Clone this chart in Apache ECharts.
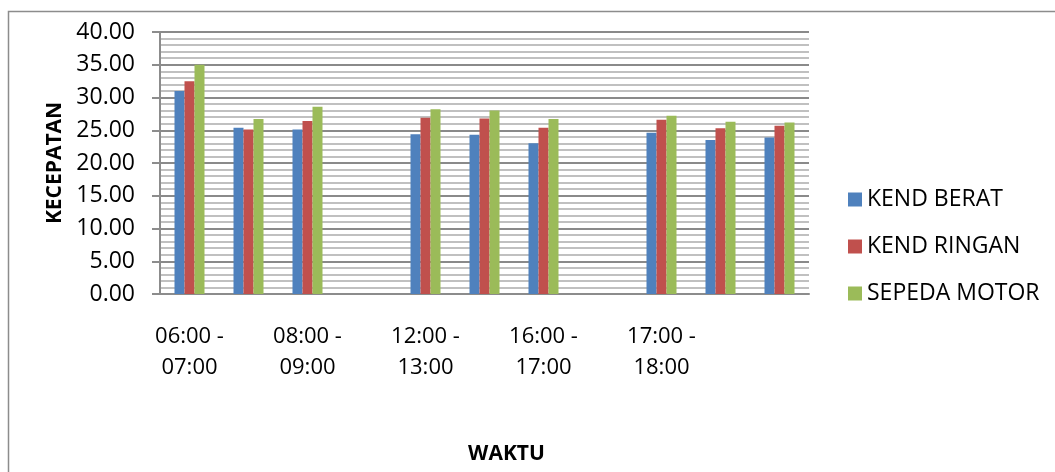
<!DOCTYPE html>
<html>
<head>
<meta charset="utf-8">
<script src="https://cdn.jsdelivr.net/npm/echarts@6/dist/echarts.min.js"></script>
<style>
  html, body { margin: 0; padding: 0; background: #fff; }
  #chart { width: 1055px; height: 472px; }
</style>
</head>
<body>
<div id="chart"></div>
<script>
// Time slots along the x axis (only every other label is shown)
const slots = [
  '06:00 - 07:00', '07:00 - 08:00', '08:00 - 09:00', '09:00 - 10:00',
  '12:00 - 13:00', '13:00 - 14:00', '16:00 - 17:00', '16:30 - 17:30',
  '17:00 - 18:00', '18:00 - 19:00', '19:00 - 20:00'
];
// Slots whose label is printed under the axis
const labelledSlots = [0, 2, 4, 6, 8];

// Average speed per vehicle class (null = no measurement in that slot)
const kendBerat  = [31.0, 25.4, 25.1, null, 24.4, 24.3, 23.0, null, 24.6, 23.5, 23.9];
const kendRingan = [32.5, 25.1, 26.4, null, 26.9, 26.8, 25.4, null, 26.6, 25.3, 25.7];
const sepedaMotor = [35.0, 26.7, 28.6, null, 28.2, 28.0, 26.7, null, 27.2, 26.3, 26.2];

const seriesNames = ['KEND BERAT', 'KEND RINGAN', 'SEPEDA MOTOR'];
const seriesColors = ['#4F81BD', '#C0504D', '#9BBB59'];

const font = '"Open Sans", "Liberation Sans", sans-serif';

const chart = echarts.init(document.getElementById('chart'), null, { renderer: 'canvas' });

chart.setOption({
  backgroundColor: '#ffffff',
  animation: false,
  textStyle: { fontFamily: font },
  graphic: [{
    type: 'rect',
    shape: { x: 8.5, y: 11.5, width: 1200, height: 600 },
    style: { fill: 'none', stroke: '#8c8c8c', lineWidth: 1.5 },
    silent: true,
    z: -10
  }],
  grid: { left: 160, right: 246, top: 32, bottom: 178, outerBoundsMode: 'none', containLabel: false },
  legend: {
    orient: 'vertical',
    left: 843,
    top: 183,
    itemWidth: 14,
    itemHeight: 14,
    itemGap: 24,
    icon: 'rect',
    data: seriesNames,
    textStyle: { fontFamily: font, fontSize: 23, color: '#000' }
  },
  xAxis: {
    type: 'category',
    data: slots,
    name: 'WAKTU',
    nameLocation: 'middle',
    nameGap: 150,
    nameTextStyle: {
      fontFamily: font, fontSize: 21, fontWeight: 'bold', color: '#000',
      padding: [0, 0, 0, 44]
    },
    axisLine: { show: true, lineStyle: { color: '#8c8c8c', width: 2 } },
    axisTick: { show: false },
    axisLabel: {
      interval: (idx) => labelledSlots.includes(idx),
      margin: 27,
      fontFamily: font,
      fontSize: 22,
      lineHeight: 31,
      color: '#000',
      formatter: v => v.replace(' - ', ' -\n')
    }
  },
  yAxis: {
    type: 'value',
    min: 0,
    max: 40,
    interval: 5,
    name: 'KECEPATAN',
    nameLocation: 'middle',
    nameGap: 94,
    nameTextStyle: { fontFamily: font, fontSize: 21, fontWeight: 'bold', color: '#000' },
    axisLine: { show: true, lineStyle: { color: '#8c8c8c', width: 2 } },
    axisTick: { show: true, length: 8, lineStyle: { color: '#8c8c8c', width: 2 } },
    axisLabel: {
      margin: 25,
      fontFamily: font,
      fontSize: 23,
      color: '#000',
      formatter: v => v.toFixed(2)
    },
    splitLine: { show: true, lineStyle: { color: '#8a8a8a', width: 2 } },
    minorTick: { show: false, splitNumber: 5 },
    minorSplitLine: { show: true, lineStyle: { color: '#c0c0c0', width: 2 } }
  },
  series: [kendBerat, kendRingan, sepedaMotor].map((vals, i) => ({
    name: seriesNames[i],
    type: 'bar',
    data: vals,
    barWidth: 10,
    barGap: '0%',
    itemStyle: { color: seriesColors[i] },
    z: 3
  }))
});
</script>
</body>
</html>
